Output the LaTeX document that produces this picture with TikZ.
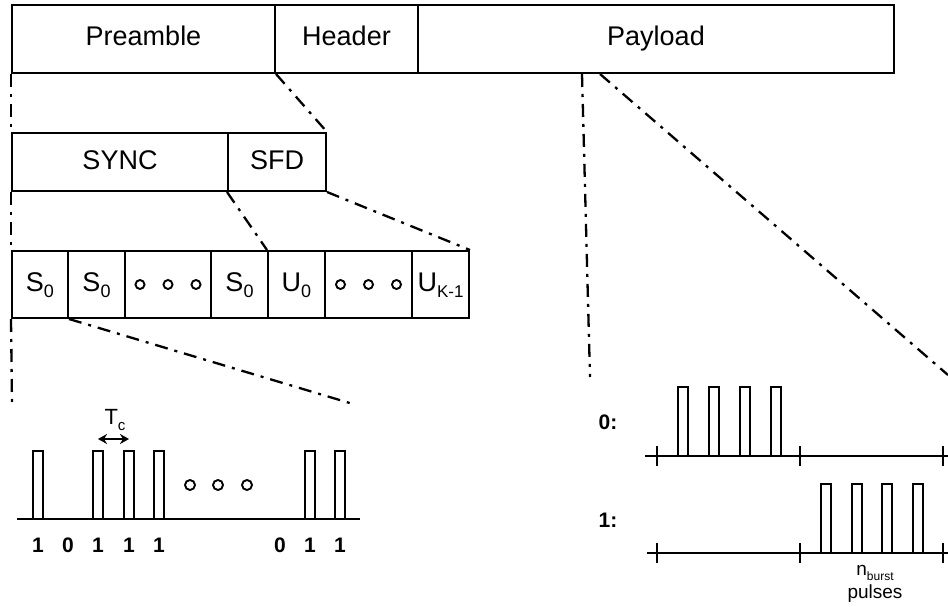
\documentclass[tikz,border=0pt]{standalone}
\usepackage{fontspec}
\setmainfont{Liberation Sans}
\usetikzlibrary{arrows.meta}
\newcommand{\lowsub}[2]{\raisebox{-0.45ex}{\fontsize{#1}{#1}\selectfont #2}}

\begin{document}
\begin{tikzpicture}[x=1pt,y=-1pt,
	box/.style={draw,line width=2pt,inner sep=0pt,text height=19pt,text depth=5pt,font=\fontsize{27}{30}\selectfont},
	dd/.style={line width=2.3pt,dash pattern=on 13pt off 7pt on 3pt off 7pt},
	pulse/.style={line width=1.8pt},
	axis/.style={line width=2.4pt},
	ring/.style={line width=1.9pt},
	bit/.style={font=\bfseries\fontsize{21}{24}\selectfont}]
	\useasboundingbox (0,0) rectangle (948,607);

	% frame
	\node[box,minimum width=263pt,minimum height=68pt] (pre) at (143.5,39) {Preamble};
	\node[box,minimum width=143pt,minimum height=68pt] (hdr) at (346.5,39) {Header};
	\node[box,minimum width=476pt,minimum height=68pt] (pay) at (656,39) {Payload};

	% preamble
	\node[box,minimum width=216pt,minimum height=58pt] (sync) at (120,162) {SYNC};
	\node[box,minimum width=98pt,minimum height=58pt] (sfd) at (277,162) {SFD};

	% symbols
	\node[box,minimum width=56pt,minimum height=67pt] (s1) at (40,284.5) {S\lowsub{18}{0}};
	\node[box,minimum width=57pt,minimum height=67pt] (s2) at (96.5,284.5) {S\lowsub{18}{0}};
	\node[box,minimum width=86pt,minimum height=67pt] (d1) at (168,284.5) {};
	\node[box,minimum width=57pt,minimum height=67pt] (s3) at (239.5,284.5) {S\lowsub{18}{0}};
	\node[box,minimum width=57pt,minimum height=67pt] (u0) at (296.5,284.5) {U\lowsub{18}{0}};
	\node[box,minimum width=87pt,minimum height=67pt] (d2) at (368.5,284.5) {};
	\node[box,minimum width=57pt,minimum height=67pt] (uk) at (440.5,284.5) {U\lowsub{17}{K-1}};
	\foreach \k in {-28,0,28} {
		\draw[ring] ([xshift=\k pt]d1.center) circle (4.5pt);
		\draw[ring] ([xshift=\k pt]d2.center) circle (4.5pt);
	}

	% zoom lines
	\coordinate (zl) at (12,404);
	\coordinate (zr) at (353,404);
	\coordinate (z0) at (590,377);
	\coordinate (z1) at (948,375);
	\draw[dd] (pre.south west) -- (sync.north west);
	\draw[dd] (pre.south east) -- (sfd.north east);
	\draw[dd] (sync.south west) -- (s1.north west);
	\draw[dd] (sfd.south west) -- (u0.north west);
	\draw[dd] (sfd.south east) -- (uk.north east);
	\draw[dd] (s1.south west) -- (zl);
	\draw[dd] (s1.south east) -- (zr);
	\draw[dd] ([xshift=-74pt]pay.south) -- (z0);
	\draw[dd] ([xshift=-56pt]pay.south) -- (z1);

	% S0 pulse train
	\draw[axis] (17,519) -- (360,519);
	\foreach \c in {38,98,129,159,310,340}
		\draw[pulse] (\c-5,519) -- (\c-5,451) -- (\c+5,451) -- (\c+5,519);
	\foreach \c/\b in {38/1,68/0,98/1,129/1,159/1,280/0,310/1,340/1}
		\node[bit] (bit\c) at (\c,545) {\b};
	\foreach \c in {190,218,247}
		\draw[ring] (\c,485) circle (5pt);
	\draw[{Stealth[length=9pt,width=10pt]}-{Stealth[length=9pt,width=10pt]},line width=2.2pt] (98,439) -- (129,439);
	\node[font=\fontsize{22}{24}\selectfont] (tc) at (115,420) {T\lowsub{15}{c}};

	% burst symbols
	\node[bit] (zero) at (608,422) {0:};
	\node[bit] (one) at (608,520) {1:};
	\draw[axis] (645,456) -- (948,456);
	\draw[axis] (647,553) -- (948,553);
	\foreach \t in {657,800,943} {
		\draw[axis] (\t,446) -- (\t,466);
		\draw[axis] (\t,543) -- (\t,563);
	}
	\foreach \c in {683,714,745,776}
		\draw[pulse] (\c-5,456) -- (\c-5,387) -- (\c+5,387) -- (\c+5,456);
	\foreach \c in {826,857,887,918}
		\draw[pulse] (\c-5,553) -- (\c-5,484) -- (\c+5,484) -- (\c+5,553);
	\node[font=\fontsize{19}{20}\selectfont] (nb) at (875,573) {n\lowsub{12}{burst}};
	\node[font=\fontsize{19}{20}\selectfont] (np) at (875,594) {pulses};
\end{tikzpicture}
\end{document}
